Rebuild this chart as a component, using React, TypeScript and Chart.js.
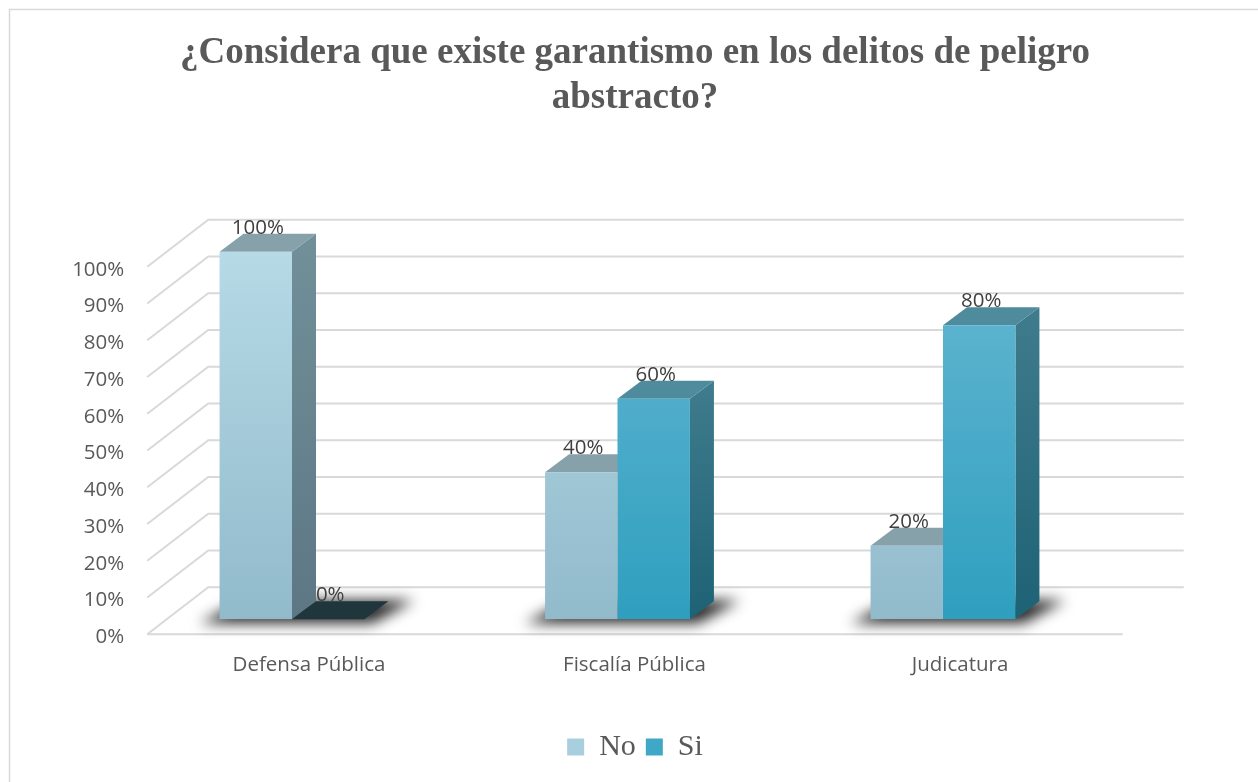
import React, { useEffect, useRef } from "react";
import { Chart, registerables } from "chart.js";

Chart.register(...registerables);

// ---------- data ----------
const TITLE_LINES = [
  "¿Considera que existe garantismo en los delitos de peligro",
  "abstracto?",
];
const CATEGORIES = ["Defensa Pública", "Fiscalía Pública", "Judicatura"];
const SERIES_NAMES = ["No", "Si"];
const NO_VALUES = [1.0, 0.4, 0.2];
const SI_VALUES = [0.0, 0.6, 0.8];
const Y_MIN = 0;
const Y_MAX = 1;
const Y_STEP = 0.1;

// ---------- styles ----------
const NO_STYLE = {
  frontTop: "#b6dae6",
  frontBottom: "#91bacb",
  top: "#87a1ab",
  sideTop: "#71909a",
  sideBottom: "#5d7784",
  legend: "#a8cfdd",
};
const SI_STYLE = {
  frontTop: "#65b7d2",
  frontBottom: "#2f9fbf",
  top: "#4e8b9d",
  sideTop: "#3f7c8d",
  sideBottom: "#1e6275",
  legend: "#3fa8c7",
};
const STYLES = [NO_STYLE, SI_STYLE];
const ZERO_FACE = "#1f363c";
const GRID_COLOR = "#d9d9d9";
const TEXT_COLOR = "#595959";
const LABEL_COLOR = "#404040";
const SANS = "'Open Sans', 'Noto Sans', sans-serif";
const SERIF = "'Liberation Serif', 'Times New Roman', serif";

const DEPTH_X = 24;
const DEPTH_Y = 18;
const BACK_DX = 41;
const BACK_DY = 32;
const FRONT_DX = -20;
const FRONT_DY = 15;

function poly(ctx: CanvasRenderingContext2D, pts: number[][]) {
  ctx.beginPath();
  ctx.moveTo(pts[0][0], pts[0][1]);
  for (let i = 1; i < pts.length; i++) ctx.lineTo(pts[i][0], pts[i][1]);
  ctx.closePath();
}

const frameAndWalls = {
  id: "frameAndWalls",
  beforeDraw(chart: any) {
    const ctx = chart.ctx as CanvasRenderingContext2D;
    ctx.save();
    ctx.fillStyle = "#ffffff";
    ctx.fillRect(0, 0, chart.width, chart.height);
    ctx.strokeStyle = "#d9d9d9";
    ctx.lineWidth = 1.5;
    ctx.beginPath();
    ctx.moveTo(9.5, chart.height);
    ctx.lineTo(9.5, 9.5);
    ctx.lineTo(chart.width, 9.5);
    ctx.stroke();
    ctx.restore();
  },
  beforeDatasetsDraw(chart: any) {
    const ctx = chart.ctx as CanvasRenderingContext2D;
    const { left, right } = chart.chartArea;
    const y = chart.scales.y;
    ctx.save();
    ctx.strokeStyle = GRID_COLOR;
    ctx.lineWidth = 2;
    const nTicks = Math.round((Y_MAX - Y_MIN) / Y_STEP);
    const fl = left - FRONT_DX - 2;
    const bl = fl + (BACK_DX - FRONT_DX);
    const br = right + BACK_DX + 37;
    for (let i = 0; i <= nTicks; i++) {
      const v = Y_MIN + i * Y_STEP;
      const yb = y.getPixelForValue(v);
      ctx.beginPath();
      ctx.moveTo(fl, yb + FRONT_DY);
      ctx.lineTo(bl, yb - BACK_DY);
      ctx.lineTo(br, yb - BACK_DY);
      ctx.stroke();
    }
    const y0 = y.getPixelForValue(Y_MIN);
    ctx.beginPath();
    ctx.moveTo(fl, y0 + FRONT_DY);
    ctx.lineTo(right + 17, y0 + FRONT_DY);
    ctx.stroke();

    // floor shadows
    const m0 = chart.getDatasetMeta(0);
    const m1 = chart.getDatasetMeta(1);
    for (let i = 0; i < CATEGORIES.length; i++) {
      const a = m0.data[i];
      const b = m1.data[i];
      const xL = a.x - a.width / 2;
      const xR = b.x + b.width / 2;
      const yb = a.base;
      ctx.save();
      ctx.filter = "blur(7px)";
      ctx.fillStyle = "rgba(0,0,0,0.85)";
      poly(ctx, [
        [xL - 20, yb + 4],
        [xR + 8, yb + 4],
        [xR + DEPTH_X + 26, yb - DEPTH_Y - 1],
        [xL + DEPTH_X, yb - DEPTH_Y - 1],
      ]);
      ctx.fill();
      ctx.restore();
    }

    // top and side faces (fronts are drawn by Chart.js afterwards)
    for (let i = 0; i < CATEGORIES.length; i++) {
      for (let d = 0; d < 2; d++) {
        const el = chart.getDatasetMeta(d).data[i];
        const st = STYLES[d];
        const val = chart.data.datasets[d].data[i] as number;
        const x0 = el.x - el.width / 2;
        const x1 = el.x + el.width / 2;
        const yt = el.y;
        const yb = el.base;
        if (val === 0) {
          ctx.fillStyle = ZERO_FACE;
          poly(ctx, [
            [x0, yb],
            [x1, yb],
            [x1 + DEPTH_X, yb - DEPTH_Y],
            [x0 + DEPTH_X, yb - DEPTH_Y],
          ]);
          ctx.fill();
          continue;
        }
        const g = ctx.createLinearGradient(0, yt - DEPTH_Y, 0, yb);
        g.addColorStop(0, st.sideTop);
        g.addColorStop(1, st.sideBottom);
        ctx.fillStyle = g;
        poly(ctx, [
          [x1, yt],
          [x1 + DEPTH_X, yt - DEPTH_Y],
          [x1 + DEPTH_X, yb - DEPTH_Y],
          [x1, yb],
        ]);
        ctx.fill();
        ctx.fillStyle = st.top;
        poly(ctx, [
          [x0, yt],
          [x1, yt],
          [x1 + DEPTH_X, yt - DEPTH_Y],
          [x0 + DEPTH_X, yt - DEPTH_Y],
        ]);
        ctx.fill();
      }
    }
    ctx.restore();
  },
  afterDatasetsDraw(chart: any) {
    const ctx = chart.ctx as CanvasRenderingContext2D;
    ctx.save();
    ctx.font = `20.5px ${SANS}`;
    ctx.fillStyle = LABEL_COLOR;
    ctx.textAlign = "center";
    ctx.textBaseline = "middle";
    for (let d = 0; d < 2; d++) {
      const meta = chart.getDatasetMeta(d);
      meta.data.forEach((el: any, i: number) => {
        const v = chart.data.datasets[d].data[i] as number;
        ctx.fillText(`${Math.round(v * 100)}%`, el.x + 2, el.y - 24);
      });
    }
    ctx.restore();
  },
};

function frontGradient(style: typeof NO_STYLE) {
  return (c: any) => {
    const chart = c.chart;
    const area = chart.chartArea;
    if (!area) return style.frontBottom;
    const g = chart.ctx.createLinearGradient(0, area.top, 0, area.bottom);
    g.addColorStop(0, style.frontTop);
    g.addColorStop(1, style.frontBottom);
    return g;
  };
}

export default function App() {
  const ref = useRef<HTMLCanvasElement>(null);
  useEffect(() => {
    const chart = new Chart(ref.current!, {
      type: "bar",
      data: {
        labels: CATEGORIES,
        datasets: [
          {
            label: SERIES_NAMES[0],
            data: NO_VALUES,
            backgroundColor: frontGradient(NO_STYLE),
            borderWidth: 0,
            categoryPercentage: 0.445,
            barPercentage: 1,
          },
          {
            label: SERIES_NAMES[1],
            data: SI_VALUES,
            backgroundColor: frontGradient(SI_STYLE),
            borderWidth: 0,
            categoryPercentage: 0.445,
            barPercentage: 1,
          },
        ],
      },
      options: {
        responsive: false,
        animation: false,
        devicePixelRatio: 1,
        layout: { padding: { top: 0, left: 0, right: 0, bottom: 10 } },
        plugins: {
          title: {
            display: true,
            text: TITLE_LINES,
            color: TEXT_COLOR,
            font: { family: SERIF, size: 37, weight: "bold", lineHeight: 1.216 },
            padding: { top: 30.5, bottom: 131.2 },
          },
          legend: {
            display: true,
            position: "bottom",
            labels: {
              color: TEXT_COLOR,
              font: { family: SERIF, size: 30 },
              boxWidth: 17,
              boxHeight: 17,
              padding: 10,
              generateLabels: (chart: any) =>
                chart.data.datasets.map((ds: any, i: number) => ({
                  text: ds.label,
                  fillStyle: STYLES[i].legend,
                  strokeStyle: STYLES[i].legend,
                  lineWidth: 0,
                  fontColor: TEXT_COLOR,
                  hidden: false,
                  datasetIndex: i,
                })),
            },
          },
          tooltip: { enabled: false },
        },
        scales: {
          x: {
            grid: { display: false, drawTicks: false },
            border: { display: false },
            ticks: {
              color: TEXT_COLOR,
              font: { family: SANS, size: 20.5 },
              padding: 33.5,
              labelOffset: 17,
            },
            afterFit: (s: any) => {
              s.height = 102.7;
            },
          },
          y: {
            min: Y_MIN,
            max: Y_MAX,
            grid: { display: false, drawTicks: false },
            border: { display: false },
            ticks: {
              stepSize: Y_STEP,
              color: TEXT_COLOR,
              font: { family: SANS, size: 20.5 },
              padding: 5,
              labelOffset: 18,
              callback: (v: any) => `${Math.round(Number(v) * 100)}%`,
            },
            afterFit: (s: any) => {
              s.width = 129.25;
            },
          },
          yRight: {
            type: "linear",
            position: "right",
            display: true,
            grid: { display: false, drawTicks: false },
            border: { display: false },
            ticks: { display: false },
            afterFit: (s: any) => {
              s.width = 164.25;
            },
          },
        },
      },
      plugins: [frameAndWalls],
    } as any);
    return () => chart.destroy();
  }, []);
  return (
    <div
      style={{
        position: "fixed",
        left: 0,
        top: 0,
        width: 1258,
        height: 782,
        overflow: "hidden",
        background: "#fff",
      }}
    >
      <canvas
        ref={ref}
        width={1270}
        height={782}
        style={{ display: "block", width: 1270, height: 782 }}
      />
    </div>
  );
}
